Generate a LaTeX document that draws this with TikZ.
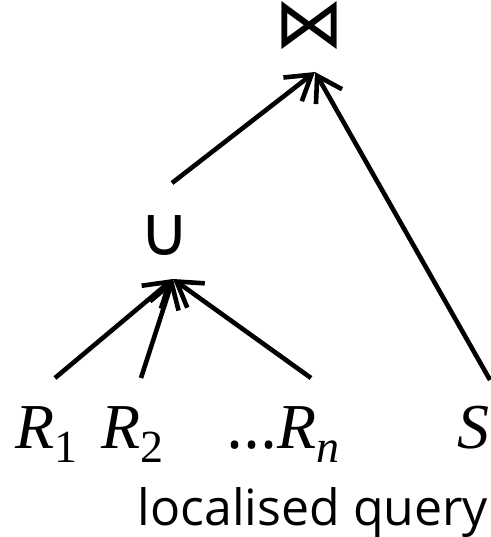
\documentclass[tikz,border=0pt]{standalone}
\usepackage{fontspec}
\setmainfont{Open Sans}
\newfontfamily\symfont{DejaVu Sans}
\newfontfamily\mfont{Liberation Serif}
\usetikzlibrary{arrows.meta}
\newcommand{\mvar}[2]{{\mfont\itshape #1}\raisebox{-0.22em}{\mfont\fontsize{46}{50}\selectfont #2}}
\begin{document}
\begin{tikzpicture}[x=1pt,y=-1pt,
  edge/.style={line width=4.6pt,-{Straight Barb[length=24pt,width=30pt]}},
  lbl/.style={inner sep=0pt,anchor=base},
  sym/.style={inner sep=0pt,anchor=base}]
\useasboundingbox (0,0) rectangle (490,537);
\node[sym,font=\symfont\fontsize{70}{76}\selectfont] (join) at (309,48) {⋈};
\node[sym,font=\symfont\fontsize{69}{76}\selectfont] (union) at (165,255) {∪};
\coordinate (jtip) at (315,72);
\coordinate (utip) at (173,279);
\coordinate (ustart) at (172,183);
\coordinate (r1t) at (55,378);
\coordinate (r2t) at (141,378);
\coordinate (rnt) at (311,378);
\coordinate (st) at (490,380);
\node[lbl,anchor=base west] (r1) at (15,448) {\fontsize{64}{70}\selectfont\mvar{R}{1}};
\node[lbl,anchor=base west] (r2) at (101,448) {\fontsize{64}{70}\selectfont\mvar{R}{2}};
\node[lbl,anchor=base west] (rn) at (226,448) {\fontsize{64}{70}\selectfont...\mvar{R}{\itshape n}};
\node[lbl,anchor=base east] (s) at (490,448) {\fontsize{64}{70}\selectfont{\mfont\itshape S}};
\node[lbl] (cap) at (313,525) {\fontsize{50}{54}\selectfont localised query};
\draw[edge] (ustart) -- (jtip);
\draw[edge] (st) -- (jtip);
\draw[edge] (r1t) -- (utip);
\draw[edge] (r2t) -- (utip);
\draw[edge] (rnt) -- (utip);
\end{tikzpicture}
\end{document}
